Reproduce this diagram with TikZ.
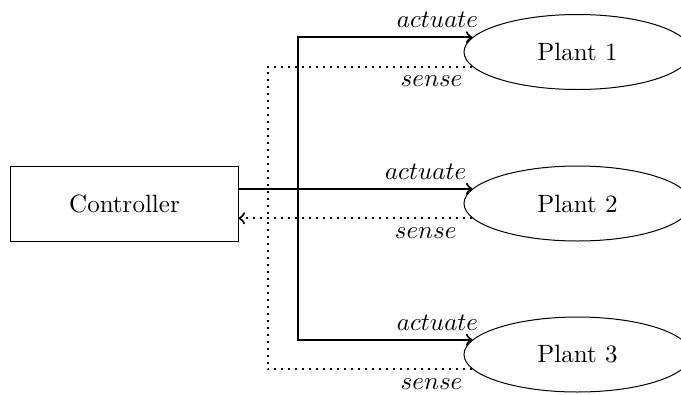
\documentclass[tikz,border=0pt]{standalone}
\usetikzlibrary{shapes.geometric}

\begin{document}
\begin{tikzpicture}[x=0.4pt,y=0.4pt,yscale=-1,xscale=1,
  block/.style={draw,minimum width=90.8pt,minimum height=30pt,inner sep=0pt},
  plant/.style={draw,ellipse,minimum width=90.8pt,minimum height=30pt,inner sep=0pt},
  act/.style={thick,->},
  sns/.style={thick,dotted}]
\useasboundingbox (0,0) rectangle (681,394);

% Controller
\node[block] (ctrl) at (124.5,203.5) {Controller};
% Plants
\node[plant] (p1) at (577.5,52) {Plant 1};
\node[plant] (p2) at (577.5,203.5) {Plant 2};
\node[plant] (p3) at (577.5,354.5) {Plant 3};

% bus lines
\coordinate (abus) at (298,0);
\coordinate (sbus) at (268,0);

% actuate
\draw[act] (ctrl.east |- p2.172) -- node[pos=0.8,above] {$actuate$} (p2.172);
\draw[act] (abus |- p2.172) |- node[pos=0.9,above] {$actuate$} (p1.172);
\draw[act] (abus |- p2.172) |- node[pos=0.9,above] {$actuate$} (p3.172);

% sense
\draw[sns,->] (p2.188) -- node[pos=0.2,below] {$sense$} (ctrl.east |- p2.188);
\draw[sns] (p1.188) -| node[pos=0.1,below] {$sense$} (sbus |- p2.188);
\draw[sns] (p3.188) -| node[pos=0.1,below] {$sense$} (sbus |- p2.188);

\end{tikzpicture}
\end{document}
